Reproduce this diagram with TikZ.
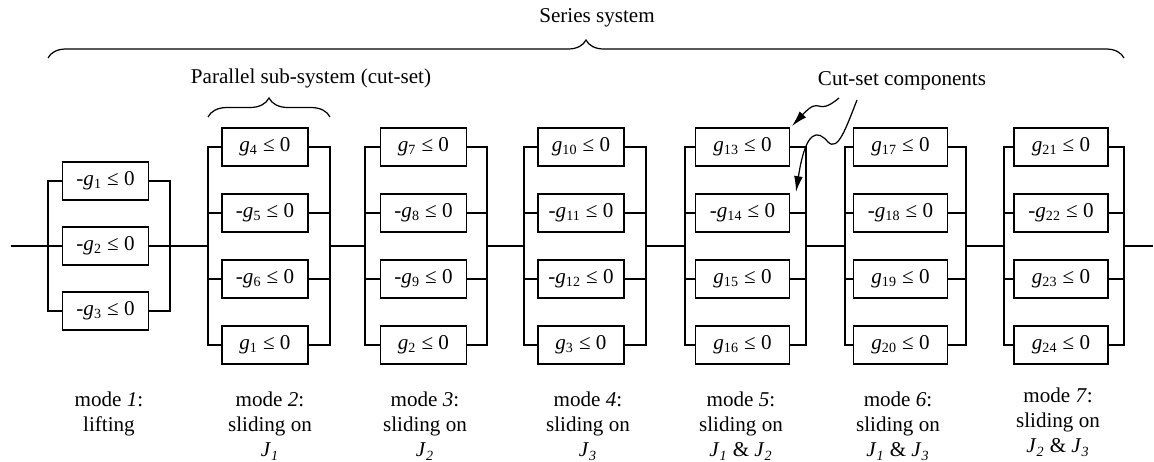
\documentclass[tikz,border=0pt]{standalone}
\usepackage{fontspec}
\setmainfont{Liberation Serif}
\usetikzlibrary{decorations.pathreplacing,arrows.meta}

\newcommand{\gcon}[1]{\textit{g}\textsubscript{#1}}
\newcommand{\jnt}[1]{\textit{J}\textsubscript{\textit{#1}}}

\tikzset{
  limitbox/.style={draw, line width=0.8pt, minimum height=0.76cm, inner sep=0pt, fill=white},
  narrowbox/.style={limitbox, minimum width=1.72cm},
  widebox/.style={limitbox, minimum width=1.88cm},
  wire/.style={line width=1.2pt},
  modelabel/.style={align=center, anchor=north, inner sep=0pt, font=\fontsize{12}{14.2}\selectfont},
  bracket/.style={decorate, line width=0.7pt},
  pointer/.style={line width=0.7pt, -{Latex[length=9pt,width=5pt]}},
}

\begin{document}
\begin{tikzpicture}[x=0.02cm, y=-0.02cm, font=\fontsize{12}{15.5}\selectfont]
  \useasboundingbox (0,0) rectangle (1154,461);

  % Series line ends and bar positions
  \coordinate (start) at (11,246);
  \coordinate (end) at (1153,246);
  \coordinate (l1) at (48,246);    \coordinate (r1) at (170,246);
  \coordinate (l2) at (208,246);   \coordinate (r2) at (330,246);
  \coordinate (l3) at (365,246);   \coordinate (r3) at (487,246);
  \coordinate (l4) at (524,246);   \coordinate (r4) at (646,246);
  \coordinate (l5) at (685,246);   \coordinate (r5) at (806,246);
  \coordinate (l6) at (845,246);   \coordinate (r6) at (966,246);
  \coordinate (l7) at (1004,246);  \coordinate (r7) at (1124,246);

  % Mode 1
  \node[narrowbox] (m1a) at (105.5,181) {-\gcon{1} ≤ 0};
  \node[narrowbox] (m1b) at (105.5,246) {-\gcon{2} ≤ 0};
  \node[narrowbox] (m1c) at (105.5,311) {-\gcon{3} ≤ 0};

  % Mode 2
  \node[narrowbox] (m2a) at (265,147) {\gcon{4} ≤ 0};
  \node[narrowbox] (m2b) at (265,213) {-\gcon{5} ≤ 0};
  \node[narrowbox] (m2c) at (265,279) {-\gcon{6} ≤ 0};
  \node[narrowbox] (m2d) at (265,345) {\gcon{1} ≤ 0};

  % Mode 3
  \node[narrowbox] (m3a) at (423.5,147) {\gcon{7} ≤ 0};
  \node[narrowbox] (m3b) at (423.5,213) {-\gcon{8} ≤ 0};
  \node[narrowbox] (m3c) at (423.5,279) {-\gcon{9} ≤ 0};
  \node[narrowbox] (m3d) at (423.5,345) {\gcon{2} ≤ 0};

  % Mode 4
  \node[narrowbox] (m4a) at (581,147) {\gcon{10} ≤ 0};
  \node[narrowbox] (m4b) at (581,213) {-\gcon{11} ≤ 0};
  \node[narrowbox] (m4c) at (581,279) {-\gcon{12} ≤ 0};
  \node[narrowbox] (m4d) at (581,345) {\gcon{3} ≤ 0};

  % Mode 5
  \node[widebox] (m5a) at (742.5,147) {\gcon{13} ≤ 0};
  \node[widebox] (m5b) at (742.5,213) {-\gcon{14} ≤ 0};
  \node[widebox] (m5c) at (742.5,279) {\gcon{15} ≤ 0};
  \node[widebox] (m5d) at (742.5,345) {\gcon{16} ≤ 0};

  % Mode 6
  \node[widebox] (m6a) at (900.5,147) {\gcon{17} ≤ 0};
  \node[widebox] (m6b) at (900.5,213) {-\gcon{18} ≤ 0};
  \node[widebox] (m6c) at (900.5,279) {\gcon{19} ≤ 0};
  \node[widebox] (m6d) at (900.5,345) {\gcon{20} ≤ 0};

  % Mode 7
  \node[widebox] (m7a) at (1061,147) {\gcon{21} ≤ 0};
  \node[widebox] (m7b) at (1061,213) {-\gcon{22} ≤ 0};
  \node[widebox] (m7c) at (1061,279) {\gcon{23} ≤ 0};
  \node[widebox] (m7d) at (1061,345) {\gcon{24} ≤ 0};

  % Parallel bars
  \foreach \m/\last in {1/c,2/d,3/d,4/d,5/d,6/d,7/d} {
    \draw[wire] (m\m a.west) -- (m\m a.west -| l\m) -- (m\m\last.west -| l\m) -- (m\m\last.west);
    \draw[wire] (m\m a.east) -- (m\m a.east -| r\m) -- (m\m\last.east -| r\m) -- (m\m\last.east);
    \foreach \k in {b,c} {
      \draw[wire] (m\m\k.west) -- (m\m\k.west -| l\m);
      \draw[wire] (m\m\k.east) -- (m\m\k.east -| r\m);
    }
  }

  % Series line
  \foreach \a/\b in {start/l1, r1/l2, r2/l3, r3/l4, r4/l5, r5/l6, r6/l7, r7/end}
    \draw[wire] (\a) -- (\b);

  % Braces
  \coordinate (sysL) at (48,58);
  \coordinate (sysR) at (1124,58);
  \draw[bracket, decoration={brace, amplitude=0.36cm}] (sysL) -- (sysR);
  \node (series) at (597,18) {Series system};

  \coordinate (cutL) at (208,117);
  \coordinate (cutR) at (330,117);
  \draw[bracket, decoration={brace, amplitude=0.38cm}] (cutL) -- (cutR);
  \node (parallel) at (311,78) {Parallel sub-system (cut-set)};

  % Cut-set pointers
  \node (cutset) at (902,81) {Cut-set components};
  \coordinate (cs1s) at (839,98);
  \coordinate (cs1e) at (792,126);
  \coordinate (cs2s) at (857,100);
  \coordinate (cs2e) at (796,192);
  \draw[pointer] (cs1s) .. controls (815,118) and (822,94) .. (cs1e);
  \draw[pointer] (cs2s) .. controls (846,128) and (838,152) .. (828,142)
                        .. controls (818,130) and (806,128) .. (cs2e);

  % Mode labels
  \node[modelabel] (lab1) at (109,392) {mode \textit{1}:\\lifting};
  \node[modelabel] (lab2) at (270,392) {mode \textit{2}:\\sliding on\\\jnt{1}};
  \node[modelabel] (lab3) at (425,392) {mode \textit{3}:\\sliding on\\\jnt{2}};
  \node[modelabel] (lab4) at (588,392) {mode \textit{4}:\\sliding on\\\jnt{3}};
  \node[modelabel] (lab5) at (741,392) {mode \textit{5}:\\sliding on\\\jnt{1} \& \jnt{2}};
  \node[modelabel] (lab6) at (898,392) {mode \textit{6}:\\sliding on\\\jnt{1} \& \jnt{3}};
  \node[modelabel] (lab7) at (1058,388) {mode \textit{7}:\\sliding on\\\jnt{2} \& \jnt{3}};
\end{tikzpicture}
\end{document}
